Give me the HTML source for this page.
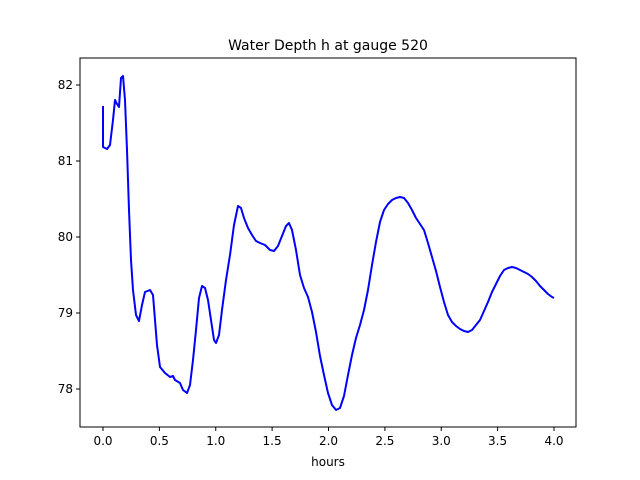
<!DOCTYPE html>
<html><head><style>body{margin:0;background:#fff}svg{display:block}</style></head><body>
<svg width="640" height="480" xmlns="http://www.w3.org/2000/svg" font-family="DejaVu Sans, Liberation Sans, sans-serif">
<rect width="640" height="480" fill="#fff"/>
<text x="328" y="50" font-size="14" text-anchor="middle">Water Depth h at gauge 520</text>
<polyline fill="none" stroke="#0000ff" stroke-width="2" stroke-linejoin="round" points="103,106 103,147 107,149 110,145 113,120 115,100 117,104 119,107 121,78 123,76 125,100 127,150 129,210 131,260 133,290 136,315 139,321 142,305 145,292 150,290 153,295 155,320 157,345 160,367 165,373 170,377 173,376 175,380 180,383 183,390 187,393 190,385 193,360 196,330 199,298 202,286 205,288 208,300 211,320 214,340 216,343 219,335 222,310 226,280 230,255 234,225 238,206 241,208 244,218 248,228 252,235 256,241 260,243 265,245 270,250 274,251 278,246 282,236 286,226 289,223 292,230 296,250 300,275 304,288 308,297 312,312 316,332 320,356 324,375 328,393 332,405 336,410 340,408 344,396 348,375 352,355 356,338 360,325 364,310 368,290 372,265 376,242 380,222 384,210 388,204 392,200 396,198 400,197 404,198 408,203 412,210 416,218 420,224 424,230 428,243 432,257 436,271 440,287 444,302 448,315 452,322 456,326 460,329 464,331 468,332 472,330 476,325 480,320 484,311 488,302 492,292 496,284 500,276 504,270 508,268 512,267 516,268 520,270 524,272 528,274 532,277 536,281 540,286 544,290 548,294 552,297 554,298"/>
<rect x="80" y="58" width="496" height="369" fill="none" stroke="#000" stroke-width="1"/>
<g stroke="#000" stroke-width="1">
<line x1="103" y1="427" x2="103" y2="431"/><line x1="159.4" y1="427" x2="159.4" y2="431"/><line x1="215.75" y1="427" x2="215.75" y2="431"/><line x1="272.1" y1="427" x2="272.1" y2="431"/><line x1="328.5" y1="427" x2="328.5" y2="431"/><line x1="384.9" y1="427" x2="384.9" y2="431"/><line x1="441.25" y1="427" x2="441.25" y2="431"/><line x1="497.6" y1="427" x2="497.6" y2="431"/><line x1="554" y1="427" x2="554" y2="431"/>
<line x1="76" y1="85" x2="80" y2="85"/><line x1="76" y1="161" x2="80" y2="161"/><line x1="76" y1="237" x2="80" y2="237"/><line x1="76" y1="313" x2="80" y2="313"/><line x1="76" y1="389" x2="80" y2="389"/>
</g>
<g font-size="12" text-anchor="middle">
<text x="103" y="445">0.0</text><text x="159.4" y="445">0.5</text><text x="215.75" y="445">1.0</text><text x="272.1" y="445">1.5</text><text x="328.5" y="445">2.0</text><text x="384.9" y="445">2.5</text><text x="441.25" y="445">3.0</text><text x="497.6" y="445">3.5</text><text x="554" y="445">4.0</text>
<text x="328" y="466">hours</text>
</g>
<g font-size="12" text-anchor="end">
<text x="73" y="89">82</text><text x="73" y="165">81</text><text x="73" y="241">80</text><text x="73" y="317">79</text><text x="73" y="393">78</text>
</g>
</svg>
</body></html>
